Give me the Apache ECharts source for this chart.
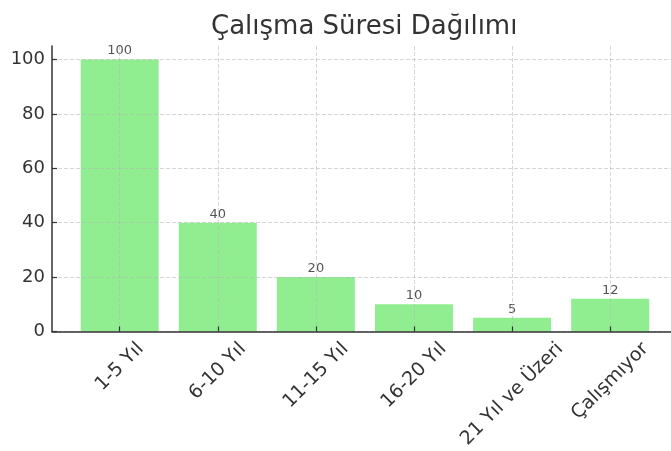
<!DOCTYPE html>
<html>
<head>
<meta charset="utf-8">
<script src="https://cdn.jsdelivr.net/npm/echarts@6/dist/echarts.min.js"></script>
<style>
  html, body { margin: 0; padding: 0; background: #fff; }
  #chart { width: 671px; height: 451px; }
</style>
</head>
<body>
<div id="chart"></div>
<script>
const categories = ['1-5 Yıl', '6-10 Yıl', '11-15 Yıl', '16-20 Yıl', '21 Yıl ve Üzeri', 'Çalışmıyor'];
const values = [100, 40, 20, 10, 5, 12];
const yTicks = [0, 20, 40, 60, 80, 100];
const xTicks = categories.map(function (c, i) { return i; });

const font = 'DejaVu Sans';
const labelSize = 18;
const catSize = 19;

// rotated labels centred under the tick, top edge level (like matplotlib rotation=45)
const ctx = document.createElement('canvas').getContext('2d');
ctx.font = catSize + 'px "' + font + '"';
const rich = {};
categories.forEach(function (c, i) {
  const w = ctx.measureText(c).width;
  const k = 11 + 0.5 * (w + catSize);
  rich['c' + i] = {
    fontFamily: font,
    fontSize: catSize,
    color: '#333',
    padding: [k, k, 0, 0]
  };
});

const myChart = echarts.init(document.getElementById('chart'));
const option = {
  animation: false,
  title: {
    text: 'Çalışma Süresi Dağılımı',
    left: 206,
    top: 9,
    textStyle: {
      fontFamily: font,
      fontSize: 26,
      fontWeight: 'normal',
      color: '#333'
    }
  },
  grid: {
    left: 52,
    right: 0,
    top: 46,
    bottom: 119
  },
  xAxis: {
    type: 'value',
    min: -0.69,
    max: 5.62,
    z: 5,
    axisLine: { show: true, onZero: false, lineStyle: { color: '#333', width: 1.5 } },
    axisTick: {
      show: true,
      inside: true,
      length: 5,
      customValues: xTicks,
      lineStyle: { color: '#333', width: 1.2 }
    },
    axisLabel: {
      customValues: xTicks,
      rotate: 45,
      margin: 0,
      align: 'center',
      verticalAlign: 'middle',
      rich: rich,
      formatter: function (v) { return '{c' + v + '|' + categories[v] + '}'; }
    },
    splitLine: {
      show: true,
      lineStyle: { color: 'rgba(180,180,180,0.55)', type: [4, 2], width: 1 }
    }
  },
  yAxis: {
    type: 'value',
    min: 0,
    max: 105,
    z: 5,
    axisLine: { show: true, onZero: false, lineStyle: { color: '#333', width: 1.5 } },
    axisTick: {
      show: true,
      inside: true,
      length: 5,
      customValues: yTicks,
      lineStyle: { color: '#333', width: 1.2 }
    },
    axisLabel: {
      customValues: yTicks,
      margin: 7,
      fontFamily: font,
      fontSize: labelSize,
      color: '#333'
    },
    splitLine: {
      show: true,
      lineStyle: { color: 'rgba(180,180,180,0.55)', type: [4, 2], width: 1 }
    }
  },
  series: [
    {
      type: 'bar',
      barWidth: 78,
      data: values.map(function (v, i) { return [i, v]; }),
      itemStyle: { color: '#90EE90' },
      label: {
        show: true,
        position: 'top',
        distance: 2,
        fontFamily: font,
        fontSize: 13,
        color: '#555',
        formatter: function (p) { return p.value[1]; }
      }
    }
  ]
};
myChart.setOption(option);
</script>
</body>
</html>
